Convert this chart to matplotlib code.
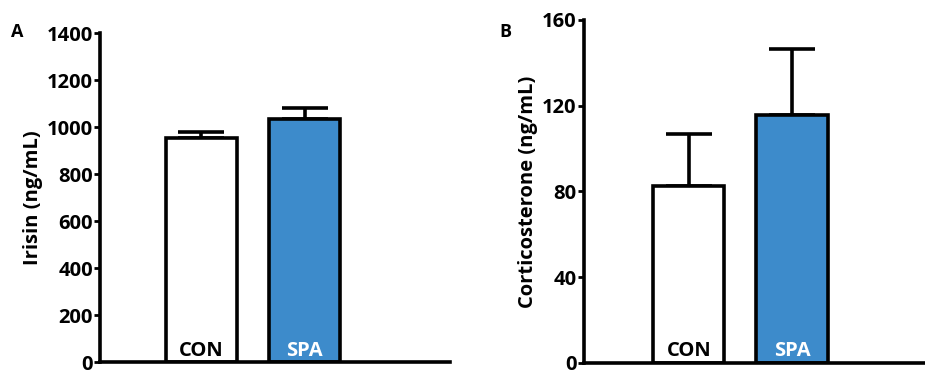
import matplotlib
matplotlib.use("Agg")
import matplotlib.pyplot as plt

plt.rcParams['font.family'] = ['Open Sans', 'DejaVu Sans']
plt.rcParams['font.weight'] = 'bold'

groups = ['CON', 'SPA']
bar_colors = ['white', '#3d8bcb']
label_colors = ['black', 'white']

irisin_mean = [952, 1036]
irisin_sem = [28, 44]

cort_mean = [82.5, 115.5]
cort_sem = [24.5, 31]

fig = plt.figure(figsize=(9.25, 3.76), dpi=100)
axA = fig.add_axes([0.108, 0.037, 0.378, 0.875])
axB = fig.add_axes([0.631, 0.035, 0.369, 0.912])


def draw_panel(ax, means, sems, ylim, yticks, ylabel, xlim, text_y):
    x = list(range(len(groups)))
    ax.errorbar(x, means, yerr=[[0] * len(sems), sems], fmt='none',
                ecolor='black', elinewidth=2.6, capsize=16.5, capthick=2.6, zorder=1)
    ax.bar(x, means, width=0.69, color=bar_colors, edgecolor='black',
           linewidth=2.6, zorder=2)
    for xi, g, c in zip(x, groups, label_colors):
        ax.text(xi, text_y, g, ha='center', va='bottom', color=c,
                fontsize=14.5, fontweight='bold', zorder=3)
    ax.set_xlim(*xlim)
    ax.set_ylim(*ylim)
    ax.set_yticks(yticks)
    ax.set_xticks([])
    for s in ['top', 'right']:
        ax.spines[s].set_visible(False)
    for s in ['left', 'bottom']:
        ax.spines[s].set_linewidth(2.6)
    ax.tick_params(axis='y', direction='out', length=4, width=2,
                   labelsize=14.5, pad=1)
    for t in ax.get_yticklabels():
        t.set_fontweight('bold')
    ax.set_ylabel(ylabel, fontsize=14.5, fontweight='bold', labelpad=3)
    ax.set_facecolor('none')


draw_panel(axA, irisin_mean, irisin_sem, (0, 1400), range(0, 1401, 200),
           'Irisin (ng/mL)', (-0.98, 2.40), 6)
draw_panel(axB, cort_mean, cort_sem, (0, 160), range(0, 161, 40),
           'Corticosterone (ng/mL)', (-1.02, 2.29), 0.7)

fig.text(0.012, 0.915, 'A', fontsize=13, fontweight='bold', va='center')
fig.text(0.54, 0.915, 'B', fontsize=13, fontweight='bold', va='center')

fig.savefig('out.png', dpi=100)
